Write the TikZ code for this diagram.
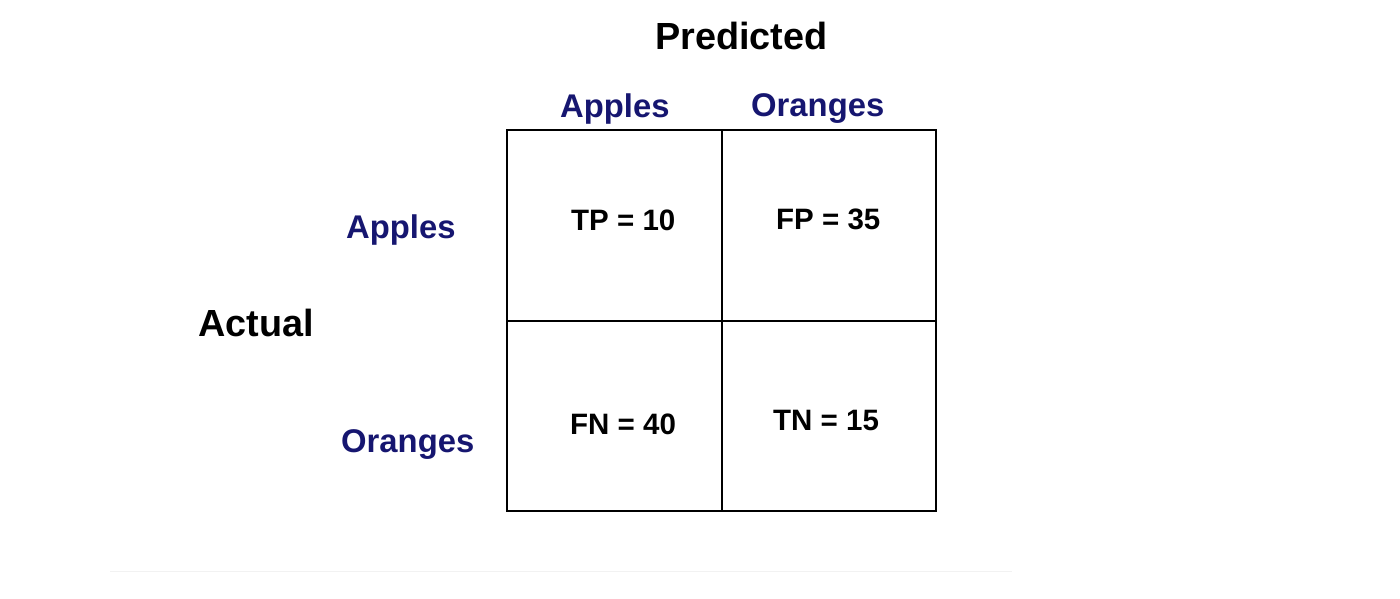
\documentclass[tikz,border=0pt]{standalone}
\usepackage{fontspec}
\setmainfont{Liberation Sans}
\definecolor{labelblue}{RGB}{22,22,112}
\begin{document}
\begin{tikzpicture}[x=1pt,y=-1pt,
  lbl/.style={anchor=base west,inner sep=0pt,font=\bfseries\fontsize{32.8}{36}\selectfont,text=labelblue},
  head/.style={anchor=base west,inner sep=0pt,font=\bfseries\fontsize{37.8}{40}\selectfont},
  cell/.style={anchor=base west,inner sep=0pt,font=\bfseries\fontsize{29.5}{32}\selectfont}]
\useasboundingbox (0,0) rectangle (1400,599);
\draw[black!5, very thin] (110,571.5) -- (1012,571.5);
\draw[line width=2pt] (507,130) rectangle (936,511);
\draw[line width=2pt] (722,130) -- (722,511);
\draw[line width=2pt] (507,321) -- (936,321);
\node[head] (pred) at (655,50) {Predicted};
\node[head] (actual) at (198,336) {Actual};
\node[lbl] (colA) at (560,118) {Apples};
\node[lbl] (colO) at (751,117) {Oranges};
\node[lbl] (rowA) at (346,238) {Apples};
\node[lbl] (rowO) at (341,452) {Oranges};
\foreach \n/\x/\y/\t in {tp/571/230/TP = 10, fp/776/229/FP = 35, fn/570/434/FN = 40, tn/773/430/TN = 15}
    \node[cell] (\n) at (\x,\y) {\t};
\end{tikzpicture}
\end{document}
